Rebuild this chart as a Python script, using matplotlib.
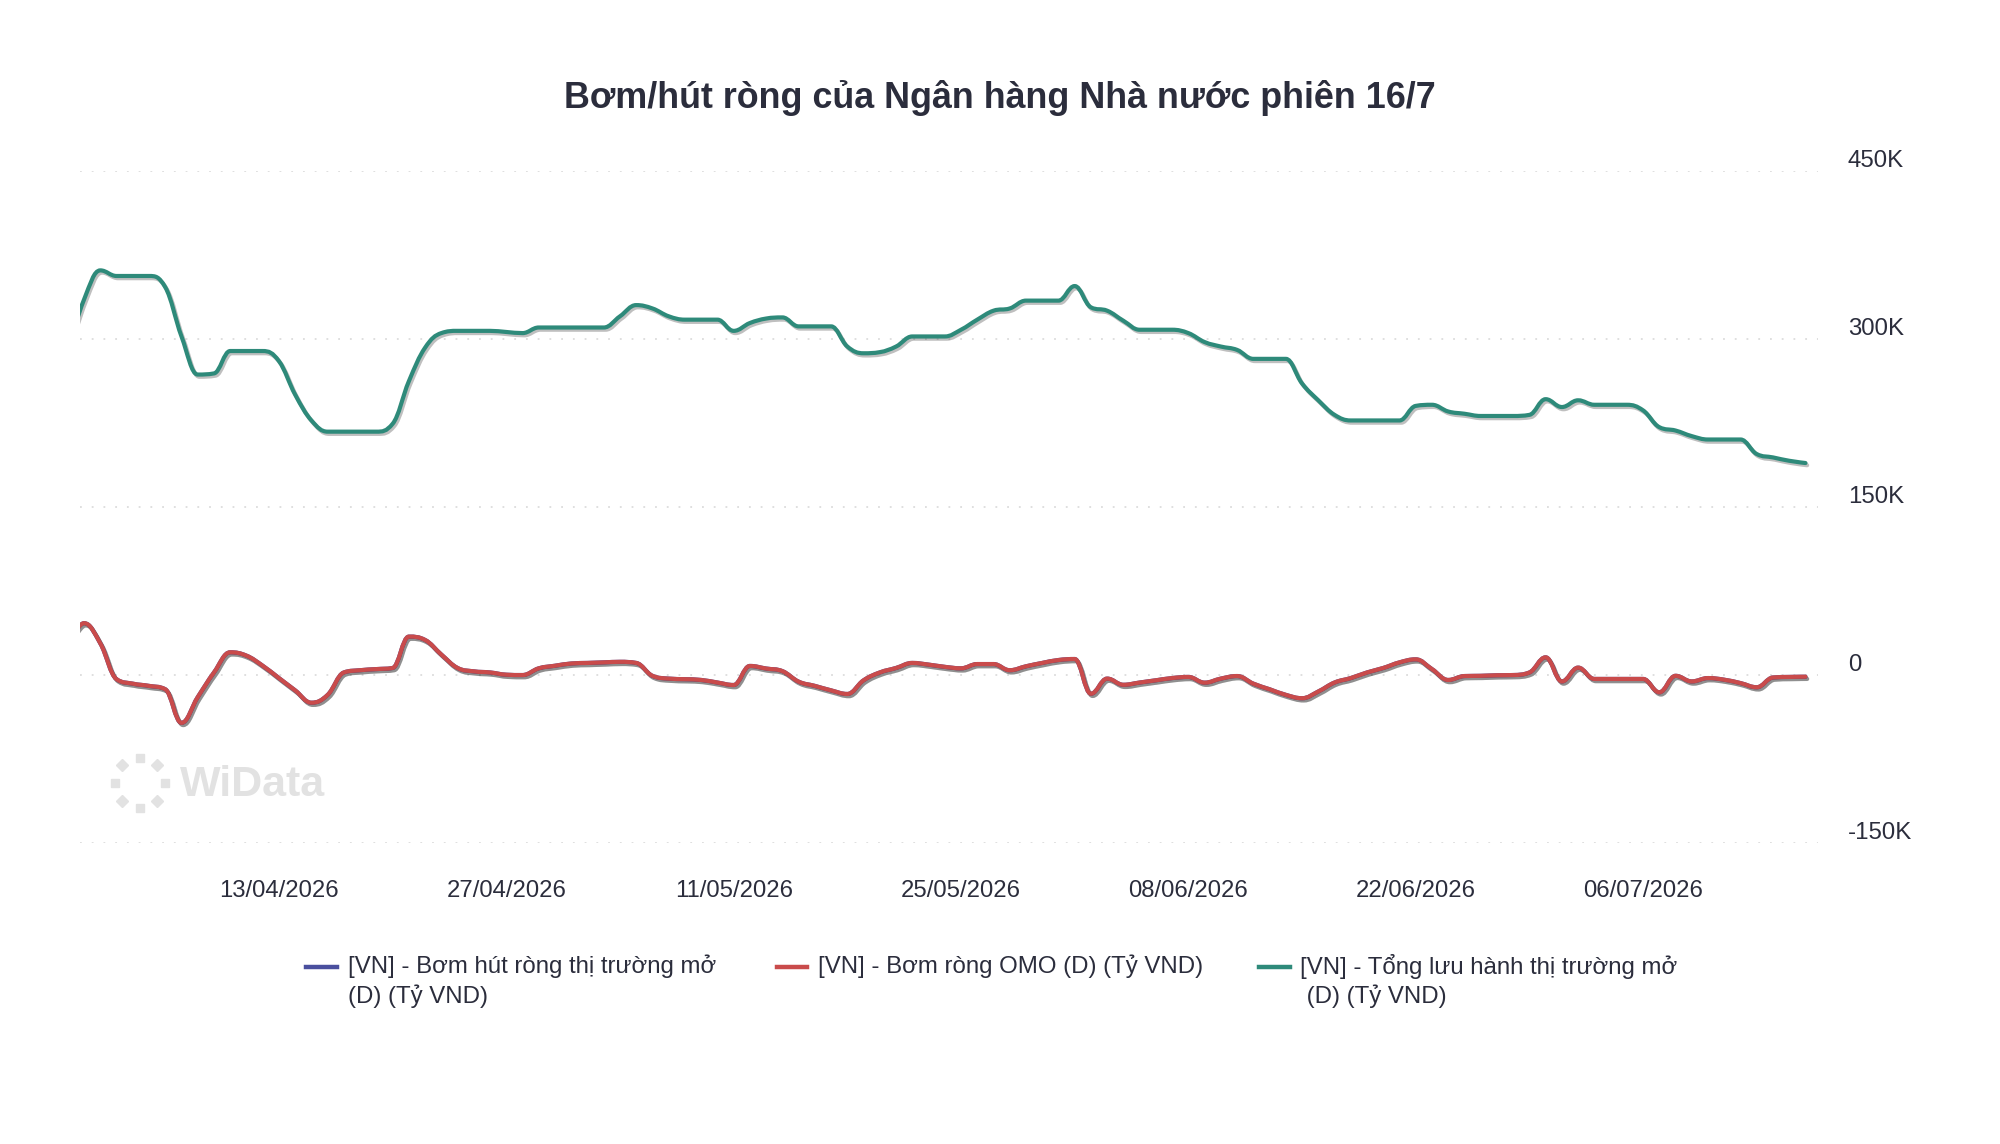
import matplotlib
matplotlib.use("Agg")
import numpy as np
import pandas as pd
import matplotlib.pyplot as plt
import matplotlib.dates as mdates
from matplotlib.path import Path
from matplotlib.patches import PathPatch
import matplotlib.patheffects as pe
from matplotlib.transforms import ScaledTranslation
from matplotlib.lines import Line2D
from matplotlib.ticker import FuncFormatter

# ---------------- data (thousand tỷ VND), daily from 31/03/2026 ----------------
start_date = "2026-03-31"
total_open_market = [
    290, 335, 361, 356, 356, 356, 346, 302, 268, 269, 289, 289, 289,
    280, 250, 227, 217, 217, 217, 217,
    224, 262, 292, 305, 307, 307, 307,
    306, 305, 310, 310, 310, 310, 310,
    320, 330, 327, 320, 317, 317, 317,
    307, 314, 318, 319, 311, 311, 311,
    293, 287, 288, 293, 302, 302, 302,
    308, 317, 325, 327, 334, 334, 334,
    347, 328, 325, 316, 308, 308, 308,
    305, 297, 293, 290, 282, 282, 282,
    260, 245, 232, 227, 227, 227, 227,
    240, 241, 235, 233, 231, 231, 231,
    232, 246, 239, 245, 241, 241, 241,
    236, 221, 218, 213, 210, 210, 210,
    197, 194, 191, 189,
]
omo_net = [
    25, 46, 28, -4, -8, -10, -13, -43, -20, 2, 20, 17, 8,
    -3, -14, -25, -18, 2, 4, 5,
    6, 34, 31, 18, 6, 3, 2,
    0, -0.3, 5.7, 8, 10, 10.5, 11,
    11.5, 10.5, -1, -3.5, -4, -4.7, -7,
    -9.2, 7.8, 5.5, 3.2, -6.2, -10, -14,
    -17.2, -5, 2, 6, 10.5, 9, 7,
    5.7, 9.5, 9.5, 4, 7.5, 10.5, 13.1,
    14, -17, -3.5, -9, -7, -5, -3,
    -2, -7.1, -3.5, -1.2, -8, -13, -18,
    -21, -15, -7, -3, 2, 6, 11,
    13.7, 5, -4.7, -1.2, -1, -0.5, -0.3,
    2, 15.5, -6, 6.3, -3.8, -3.8, -3.8,
    -3.8, -15.7, -1, -6, -3, -4.5, -7.5,
    -11.2, -2.5, -2, -1.8,
]
# the "Bơm hút ròng thị trường mở" series coincides with OMO net (hidden under red)
open_market_net = list(omo_net)

y_ticks = [-150000, 0, 150000, 300000, 450000]
x_tick_dates = ["2026-04-13", "2026-04-27", "2026-05-11", "2026-05-25",
                "2026-06-08", "2026-06-22", "2026-07-06"]

title = "Bơm/hút ròng của Ngân hàng Nhà nước phiên 16/7"
series_names = [
    ("[VN] - Bơm hút ròng thị trường mở", "(D) (Tỷ VND)"),
    ("[VN] - Bơm ròng OMO (D) (Tỷ VND)", None),
    ("[VN] - Tổng lưu hành thị trường mở", " (D) (Tỷ VND)"),
]
colors = ["#4a4f9e", "#c94b4b", "#2e8a7a"]

# ---------------- styling ----------------
FONT = ["Liberation Sans", "DejaVu Sans"]
plt.rcParams["font.family"] = FONT
TEXT = "#2b2d3c"

W, H = 2000, 1144
fig = plt.figure(figsize=(W / 100, H / 100), dpi=100)
fig.patch.set_facecolor("white")

ax = fig.add_axes([80 / W, 1 - 842.7 / H, (1818 - 80) / W, (842.7 - 170.7) / H])
ax.set_facecolor("white")

dates = pd.date_range(start_date, periods=len(total_open_market), freq="D")
xs = mdates.date2num(dates.to_pydatetime())


def hc_spline_path(x, y):
    """Highcharts-like spline: cubic Bezier segments through every data point."""
    n = len(x)
    lefts, rights = [None] * n, [None] * n
    sm, den = 1.5, 2.5
    for i in range(n):
        if i == 0 or i == n - 1:
            lefts[i] = rights[i] = (x[i], y[i])
            continue
        lx = (sm * x[i] + x[i - 1]) / den
        ly = (sm * y[i] + y[i - 1]) / den
        rx = (sm * x[i] + x[i + 1]) / den
        ry = (sm * y[i] + y[i + 1]) / den
        if rx != lx:
            corr = ((ry - ly) * (rx - x[i])) / (rx - lx) + y[i] - ry
            ly += corr
            ry += corr
        if ly > y[i - 1] and ly > y[i]:
            ly = max(y[i - 1], y[i]); ry = 2 * y[i] - ly
        elif ly < y[i - 1] and ly < y[i]:
            ly = min(y[i - 1], y[i]); ry = 2 * y[i] - ly
        if ry > y[i + 1] and ry > y[i]:
            ry = max(y[i + 1], y[i]); ly = 2 * y[i] - ry
        elif ry < y[i + 1] and ry < y[i]:
            ry = min(y[i + 1], y[i]); ly = 2 * y[i] - ry
        lefts[i] = (lx, ly)
        rights[i] = (rx, ry)
    verts = [(x[0], y[0])]
    codes = [Path.MOVETO]
    for i in range(1, n):
        verts += [rights[i - 1], lefts[i], (x[i], y[i])]
        codes += [Path.CURVE4] * 3
    return Path(verts, codes)


shadow = [pe.SimpleLineShadow(offset=(1.2, -1.6), shadow_color="black", alpha=0.25),
          pe.Normal()]

for vals, col, z in [(open_market_net, colors[0], 2),
                     (omo_net, colors[1], 3),
                     (total_open_market, colors[2], 4)]:
    yv = np.asarray(vals, dtype=float) * 1000.0
    patch = PathPatch(hc_spline_path(list(xs), list(yv)), fill=False, edgecolor=col,
                      linewidth=3.0, capstyle="round", joinstyle="round",
                      path_effects=shadow, zorder=z)
    ax.add_patch(patch)

x0 = mdates.date2num(pd.Timestamp(start_date).to_pydatetime())
ax.set_xlim(x0 + 0.75, x0 + 107.77)
ax.set_ylim(-150000, 450000)

for s in ax.spines.values():
    s.set_visible(False)

ax.set_yticks(y_ticks)
ax.yaxis.tick_right()
ax.yaxis.set_major_formatter(FuncFormatter(lambda v, p: "0" if v == 0 else f"{int(v / 1000)}K"))
ax.tick_params(axis="y", length=0, pad=21.5, labelsize=17.3, labelcolor=TEXT)
ax.grid(axis="y", color="#dcdcdc", linestyle=(0, (1, 5.5)), linewidth=1.3)
ax.set_axisbelow(True)
offset = ScaledTranslation(0, 12 / 100, fig.dpi_scale_trans)
for lab in ax.get_yticklabels():
    lab.set_transform(lab.get_transform() + offset)

ax.set_xticks(mdates.date2num(pd.to_datetime(x_tick_dates).to_pydatetime()))
ax.xaxis.set_major_formatter(mdates.DateFormatter("%d/%m/%Y"))
ax.tick_params(axis="x", length=0, pad=27, labelsize=17.2, labelcolor=TEXT)

# title
fig.text(0.5, 1 - 98.5 / H, title, ha="center", va="center", fontsize=25.8,
         fontweight="bold", color=TEXT)

# legend (manual, three columns)
leg_y = 966.5
line2_y = 996.5
leg_items = [(306, 337, 348), (777, 807, 818), (1259, 1290, 1300)]
for (mx0, mx1, tx), (l1, l2), col in zip(leg_items, series_names, colors):
    fig.add_artist(Line2D([mx0 / W, mx1 / W], [1 - leg_y / H, 1 - leg_y / H],
                          transform=fig.transFigure, color=col, linewidth=3.2))
    fig.text(tx / W, 1 - leg_y / H, l1, ha="left", va="center", fontsize=17.3, color=TEXT)
    if l2:
        fig.text(tx / W, 1 - line2_y / H, l2, ha="left", va="center", fontsize=17.3, color=TEXT)

# watermark
wm_col = "#e2e2e2"
cx, cy, r = 139.5, 783, 25
for ang in range(0, 360, 45):
    a = np.deg2rad(ang)
    mk = "s" if ang % 90 == 0 else "D"
    fig.add_artist(Line2D([(cx + r * np.cos(a)) / W], [1 - (cy - r * np.sin(a)) / H],
                          transform=fig.transFigure, marker=mk, markersize=6,
                          color=wm_col, linestyle="none"))
fig.text(180 / W, 1 - 784.5 / H, "WiData", ha="left", va="center", fontsize=31,
         fontweight="bold", color=wm_col)

fig.savefig("out.png", dpi=100, facecolor="white")
